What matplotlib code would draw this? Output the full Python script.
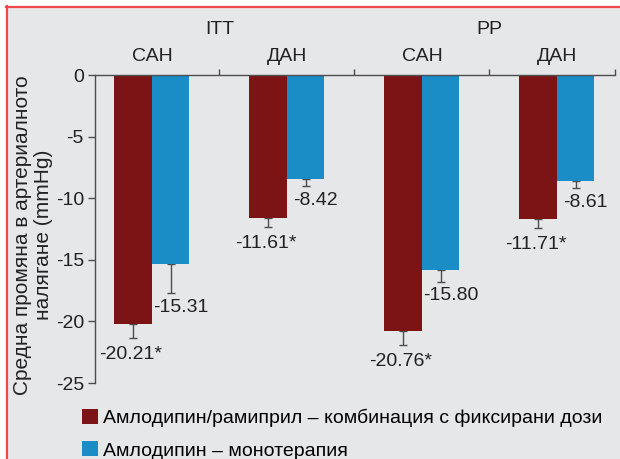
import numpy as np
import matplotlib as mpl
mpl.use("Agg")
import matplotlib.pyplot as plt
from matplotlib.patches import Rectangle
from matplotlib.lines import Line2D

plt.rcParams["font.family"] = ["Liberation Sans", "DejaVu Sans"]

# data
populations = ["ITT", "PP"]
categories = ["САН", "ДАН", "САН", "ДАН"]
combo = [-20.21, -11.61, -20.76, -11.71]
mono = [-15.31, -8.42, -15.80, -8.61]
combo_err = [1.15, 0.7, 1.15, 0.7]
mono_err = [2.4, 0.6, 1.0, 0.6]
combo_labels = ["-20.21*", "-11.61*", "-20.76*", "-11.71*"]
mono_labels = ["-15.31", "-8.42", "-15.80", "-8.61"]
series_names = ["Амлодипин/рамиприл – комбинация с фиксирани дози",
                "Амлодипин – монотерапия"]
y_ticks = [0, -5, -10, -15, -20, -25]

RED = "#7c1416"
BLUE = "#1a8cc6"
BG = "#e6e7e9"
AXC = "#4d4d4d"
W, H = 620, 459

fig = plt.figure(figsize=(W / 100, H / 100), dpi=100, facecolor="white")
# grey panel with red frame on left/top
fig.patches.append(Rectangle((7 / W, 0), 1, 1 - 7 / H, transform=fig.transFigure,
                             facecolor=BG, edgecolor="none", zorder=-10))
fig.lines.append(Line2D([6.5 / W, 6.5 / W], [0, 1 - 6 / H], transform=fig.transFigure,
                        color="#f0474b", lw=1.6, zorder=-5))
fig.lines.append(Line2D([6 / W, 1], [1 - 6.5 / H, 1 - 6.5 / H], transform=fig.transFigure,
                        color="#f0474b", lw=1.6, zorder=-5))

ax = fig.add_axes([95 / W, 76 / H, 520 / W, 308 / H])
ax.set_facecolor("none")

x = np.arange(len(categories))
bw = 0.278
b1 = ax.bar(x - bw / 2, combo, bw, color=RED, label=series_names[0], zorder=2)
b2 = ax.bar(x + bw / 2, mono, bw, color=BLUE, label=series_names[1], zorder=2)
ax.errorbar(x - bw / 2, combo, yerr=[combo_err, np.zeros(len(x))], fmt="none",
            ecolor=AXC, elinewidth=1, capsize=3.2, capthick=1, zorder=1)
ax.errorbar(x + bw / 2, mono, yerr=[mono_err, np.zeros(len(x))], fmt="none",
            ecolor=AXC, elinewidth=1, capsize=3.2, capthick=1, zorder=1)

for i in range(len(x)):
    ax.annotate(combo_labels[i], (x[i] - bw / 2, combo[i] - combo_err[i]),
                xytext=(-1.5, -12), textcoords="offset points",
                ha="center", va="center", fontsize=14, color="#222222")
    ax.annotate(mono_labels[i], (x[i] + bw / 2, mono[i] - mono_err[i]),
                xytext=(7, -10), textcoords="offset points",
                ha="center", va="center", fontsize=14, color="#222222")

ax.set_xlim(-0.422, 3.43)
ax.set_ylim(-25, 0)

ax.xaxis.tick_top()
ax.set_xticks([0.5, 1.5, 2.5, 3.43])
ax.set_xticklabels([])
ax.tick_params(axis="x", direction="out", length=4, width=1, color=AXC)
ax.set_yticks(y_ticks)
ax.set_yticklabels([str(v) for v in y_ticks])
ax.tick_params(axis="y", direction="out", length=5, width=1, color=AXC,
               labelsize=14, labelcolor="#222222", pad=3)

for s in ["bottom", "right"]:
    ax.spines[s].set_visible(False)
for s in ["top", "left"]:
    ax.spines[s].set_color(AXC)
    ax.spines[s].set_linewidth(1)

# category and population headers
for i, c in enumerate(categories):
    ax.annotate(c, (x[i], 1), xycoords=("data", "axes fraction"),
                xytext=(0, 13), textcoords="offset points",
                ha="center", va="center", fontsize=14, color="#222222")
for j, p in enumerate(populations):
    ax.annotate(p, (2 * j + 0.5, 1), xycoords=("data", "axes fraction"),
                xytext=(0, 32.5), textcoords="offset points",
                ha="center", va="center", fontsize=14, color="#222222")

fig.text(33 / W, 1 - 235 / H, "Средна промяна в артериалното\nналягане (mmHg)",
         rotation=90, ha="center", va="center", multialignment="center",
         fontsize=15, color="#222222", linespacing=1.15)

fig.legend(handles=[b1, b2], loc="upper left", bbox_to_anchor=(82 / W, 1 - 409 / H),
           frameon=False, fontsize=14, handlelength=0.8, handleheight=0.8,
           handletextpad=0.3, labelspacing=0.72, borderaxespad=0, borderpad=0)

fig.savefig("out.png", dpi=100, facecolor="white")
